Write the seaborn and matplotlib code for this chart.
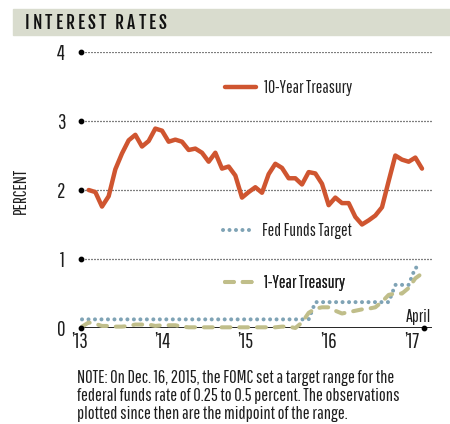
import matplotlib
matplotlib.use("Agg")
import matplotlib.pyplot as plt
import seaborn as sns
import pandas as pd

# ---- data (monthly, index 0 = Jan 2013) ----
ten_year_idx = list(range(1, 52))
ten_year = [2.00, 1.97, 1.76, 1.91, 2.30, 2.53, 2.72, 2.80, 2.63, 2.71, 2.89,
            2.86, 2.70, 2.73, 2.70, 2.58, 2.60, 2.54, 2.41, 2.54, 2.31, 2.34, 2.21,
            1.89, 1.97, 2.04, 1.96, 2.23, 2.38, 2.32, 2.17, 2.17, 2.08, 2.26, 2.24,
            2.09, 1.78, 1.89, 1.81, 1.81, 1.61, 1.50, 1.56, 1.63, 1.75, 2.13, 2.50,
            2.44, 2.41, 2.47, 2.31]
short_idx = list(range(0, 52))
fed_funds = [0.125] * 35 + [0.375] * 12 + [0.625] * 3 + [0.875] * 2
one_year = [0.02, 0.08, 0.06, 0.03, 0.03, 0.02, 0.02, 0.03, 0.05, 0.05, 0.05, 0.03,
            0.04, 0.04, 0.04, 0.02, 0.01, 0.01, 0.01, 0.01, 0.01, 0.01, 0.01, 0.01,
            0.01, 0.01, 0.01, 0.01, 0.01, 0.01, 0.02, 0.02, 0.00, 0.08, 0.22, 0.28,
            0.30, 0.30, 0.25, 0.21, 0.23, 0.25, 0.27, 0.28, 0.30, 0.38, 0.48, 0.50,
            0.50, 0.58, 0.72, 0.79]
x_tick_pos = [-0.45, 12.1, 24.5, 37.0, 49.4]
x_tick_labels = ["\u201913", "\u201914", "\u201915", "\u201916", "\u201917"]
y_ticks = [0, 1, 2, 3, 4]

df10 = pd.DataFrame({"m": ten_year_idx, "v": ten_year})
dff = pd.DataFrame({"m": short_idx, "v": fed_funds})
df1 = pd.DataFrame({"m": short_idx, "v": one_year})

sns.set_style("white")
BODY = ["Pathway Gothic One", "Roboto Condensed", "DejaVu Sans"]
TITLE = ["Fjalla One", "Oswald", "DejaVu Sans"]
plt.rcParams["font.family"] = BODY

C10 = "#cf5530"
CFF = "#7fa3b5"
C1 = "#c0be8a"
TXT = "#1e1e1e"

fig = plt.figure(figsize=(4.5, 4.24), dpi=100)
ax = fig.add_axes([79 / 450, 1 - 328 / 424, (432 - 79) / 450, (328 - 52) / 424])

# header band
fig.patches.append(plt.Rectangle((13 / 450, 1 - 35 / 424), 437 / 450, 26 / 424,
                                 transform=fig.transFigure, color="#d9dcce", zorder=0))

# letter-spaced title
renderer = fig.canvas.get_renderer()
xpos = 25.0
spacing = 3.0
for ch in "INTEREST RATES":
    t = fig.text(xpos / 450, 1 - 22.7 / 424, ch, fontsize=12.5,
                 family=TITLE, va="center", ha="left", color="#111111")
    w = t.get_window_extent(renderer=renderer).width if ch != " " else 3.5
    xpos += w + spacing

xmin, xmax = -0.15, 52.5
ax.set_xlim(xmin, xmax)
ax.set_ylim(0, 4)

for y in y_ticks[1:]:
    ax.axhline(y, color="black", lw=0.9, linestyle=(0, (0.8, 1.6)), zorder=1)
ax.axhline(0, color="black", lw=1.2, zorder=1)
ax.scatter([xmin] * len(y_ticks), y_ticks, s=10, color="black", zorder=5, clip_on=False)
ax.scatter([short_idx[-1] + 0.3], [0], s=10, color="black", zorder=5, clip_on=False)

sns.lineplot(data=dff, x="m", y="v", ax=ax, color=CFF, lw=2.9, label="Fed Funds Target",
             zorder=3)
sns.lineplot(data=df1, x="m", y="v", ax=ax, color=C1, lw=2.9, label="1-Year Treasury",
             zorder=4)
sns.lineplot(data=df10, x="m", y="v", ax=ax, color=C10, lw=3.2, label="10-Year Treasury",
             zorder=4)
lines = ax.get_lines()
lf, l1, l10 = lines[-3], lines[-2], lines[-1]
lf.set_linestyle((0, (0.01, 1.6)))
lf.set_dash_capstyle("round")
l1.set_linestyle((0, (2.2, 2.2)))
l1.set_dash_capstyle("round")
l10.set_solid_capstyle("round")
for l in (lf, l1, l10):
    l.set_clip_on(False)

ax.get_legend().remove()
for line, label, (px, py) in [(l10, "10-Year Treasury", (225, 88)),
                              (lf, "Fed Funds Target", (223, 231)),
                              (l1, "1-Year Treasury", (225, 283))]:
    leg = ax.legend([line], [label], loc="center left",
                    bbox_to_anchor=(px / 450, 1 - py / 424), bbox_transform=fig.transFigure,
                    frameon=False, fontsize=12.5, handlelength=1.8, handletextpad=0.45,
                    borderpad=0, borderaxespad=0, labelcolor=TXT)
    ax.add_artist(leg)

fig.text(431 / 450, 1 - 317 / 424, "April", ha="right", va="center", fontsize=12.5,
         color=TXT)

ax.set_xticks(x_tick_pos)
ax.set_xticklabels(x_tick_labels, fontsize=15, color=TXT)
ax.set_yticks(y_ticks)
ax.set_yticklabels([str(v) for v in y_ticks], fontsize=15, color=TXT)
ax.tick_params(axis="both", length=0)
ax.tick_params(axis="y", pad=10)
ax.tick_params(axis="x", pad=3)
for s in ax.spines.values():
    s.set_visible(False)
ax.set_xlabel("")
ax.set_ylabel("")
fig.text(21 / 450, 1 - 191 / 424, "PERCENT", rotation=90, ha="center", va="center",
         fontsize=13, color=TXT)

note = ("NOTE: On Dec. 16, 2015, the FOMC set a target range for the\n"
        "federal funds rate of 0.25 to 0.5 percent. The observations\n"
        "plotted since then are the midpoint of the range.")
fig.text(77 / 450, 1 - 370 / 424, note, ha="left", va="top", fontsize=13.2,
         linespacing=1.15, color=TXT)

fig.savefig("out.png", dpi=100)
